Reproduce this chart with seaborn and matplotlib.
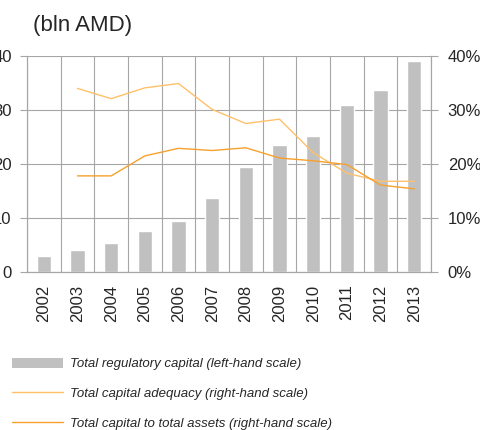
import numpy as np
import seaborn as sns
import matplotlib.pyplot as plt
from matplotlib.patches import Patch
from matplotlib.lines import Line2D

# data
years = ["2002", "2003", "2004", "2005", "2006", "2007",
         "2008", "2009", "2010", "2011", "2012", "2013"]
reg_capital = [2.9, 4.1, 5.4, 7.6, 9.4, 13.7, 19.4, 23.5, 25.2, 30.9, 33.7, 39.1]
cap_adequacy = [np.nan, 34.0, 32.1, 34.1, 34.9, 30.1, 27.5, 28.3, 22.1, 18.3, 16.8, 16.8]
cap_to_assets = [np.nan, 17.8, 17.8, 21.5, 22.9, 22.5, 23.0, 21.1, 20.6, 19.9, 16.1, 15.4]
left_ticks = [0, 10, 20, 30, 40]
right_ticks = [0, 10, 20, 30, 40]

sns.set_style("white")
plt.rcParams['font.family'] = ['Liberation Sans', 'DejaVu Sans']

grid_c = "#a6a6a6"
bar_c = "#c0c0c0"
light_or = "#ffc06a"
dark_or = "#f7a12c"

fig = plt.figure(figsize=(4.81, 4.30), dpi=100)
ax = fig.add_axes([27 / 481, 1 - 272 / 430, (431 - 27) / 481, 216 / 430])

sns.barplot(x=years, y=reg_capital, color=bar_c, width=0.42, ax=ax,
            saturation=1, zorder=2)
ax.set_xlim(-0.5, len(years) - 0.5)
ax.set_ylim(0, 40)
ax.set_yticks(left_ticks)
ax.set_yticklabels([str(t) for t in left_ticks])
ax.set_xticks(range(len(years)))
ax.set_xticklabels(years, rotation=90)
ax.set_xticks(np.arange(-0.5, len(years)), minor=True)
ax.tick_params(axis="x", which="major", length=0, pad=9, labelsize=12)
ax.tick_params(axis="x", which="minor", length=5, color=grid_c, width=0.8)
ax.tick_params(axis="y", length=5, color=grid_c, width=0.8, pad=6, labelsize=12)
ax.grid(axis="x", which="minor", color=grid_c, lw=0.8, zorder=0)
ax.grid(axis="y", which="major", color=grid_c, lw=0.8, zorder=0)
ax.set_axisbelow(True)
ax.set_xlabel("")
ax.set_ylabel("")
for s in ["left", "bottom", "right"]:
    ax.spines[s].set_color(grid_c)
    ax.spines[s].set_linewidth(0.8)
ax.spines["top"].set_visible(False)

ax2 = ax.twinx()
xs = np.arange(len(years))
sns.lineplot(x=xs, y=cap_adequacy, color=light_or, lw=1.0, ax=ax2)
sns.lineplot(x=xs, y=cap_to_assets, color=dark_or, lw=1.0, ax=ax2)
ax2.set_xlim(-0.5, len(years) - 0.5)
ax2.set_ylim(0, 40)
ax2.set_yticks(right_ticks)
ax2.set_yticklabels([f"{t}%" for t in right_ticks])
ax2.tick_params(axis="y", length=5, color=grid_c, width=0.8, pad=7, labelsize=12)
for s in ["left", "bottom", "right"]:
    ax2.spines[s].set_color(grid_c)
    ax2.spines[s].set_linewidth(0.8)
ax2.spines["top"].set_visible(False)

fig.text(33 / 481, 1 - 26 / 430, "(bln AMD)", fontsize=16, va="center", ha="left")

handles = [
    Patch(facecolor=bar_c, edgecolor="none"),
    Line2D([], [], color=light_or, lw=1.0),
    Line2D([], [], color=dark_or, lw=1.0),
]
labels = [
    "Total regulatory capital (left-hand scale)",
    "Total capital adequacy (right-hand scale)",
    "Total capital to total assets (right-hand scale)",
]
fig.legend(handles, labels, loc="upper left", bbox_to_anchor=(9 / 481, 1 - 355 / 430),
           frameon=False, prop={"style": "italic", "size": 9.5},
           handlelength=3.9, handleheight=0.85, handletextpad=0.5,
           labelspacing=1.27, borderaxespad=0, borderpad=0.2)

fig.savefig("out.png", dpi=100)
